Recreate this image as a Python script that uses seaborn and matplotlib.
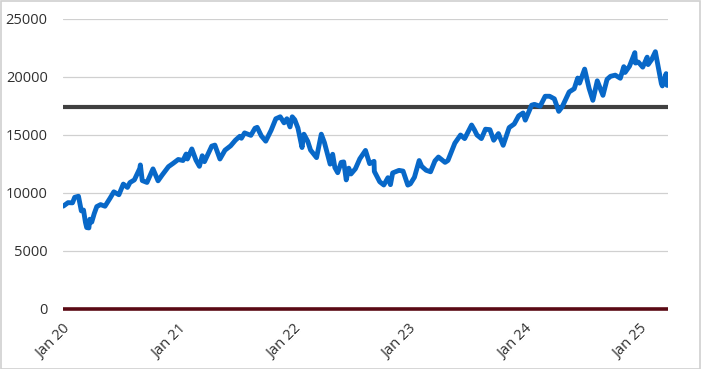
import pandas as pd
import numpy as np
import matplotlib
matplotlib.use("Agg")
import matplotlib.pyplot as plt
import matplotlib.dates as mdates
import seaborn as sns

sns.set_style('white')
plt.rcParams['font.family'] = ['Open Sans', 'DejaVu Sans']

# index level
dates = [
    "2020-01-02", "2020-01-17", "2020-01-31", "2020-02-07", "2020-02-19", "2020-02-28",
    "2020-03-06", "2020-03-12", "2020-03-16", "2020-03-23", "2020-03-26", "2020-04-01",
    "2020-04-09", "2020-04-17", "2020-04-29", "2020-05-13", "2020-05-29", "2020-06-10",
    "2020-06-26", "2020-07-10", "2020-07-23", "2020-07-31", "2020-08-14", "2020-08-31",
    "2020-09-02", "2020-09-08", "2020-09-23", "2020-10-12", "2020-10-28", "2020-11-10",
    "2020-11-30", "2020-12-15", "2020-12-31",
    "2021-01-15", "2021-01-25", "2021-01-29", "2021-02-12", "2021-02-25", "2021-03-08",
    "2021-03-17", "2021-03-24", "2021-04-16", "2021-04-26", "2021-05-12", "2021-05-28",
    "2021-06-15", "2021-06-30", "2021-07-14", "2021-07-19", "2021-07-29", "2021-08-18",
    "2021-08-31", "2021-09-07", "2021-09-20", "2021-10-04", "2021-10-21", "2021-11-05",
    "2021-11-19", "2021-12-01", "2021-12-10", "2021-12-20", "2021-12-27",
    "2022-01-04", "2022-01-14", "2022-01-27", "2022-02-02", "2022-02-14", "2022-02-23",
    "2022-03-14", "2022-03-29", "2022-04-08", "2022-04-26", "2022-05-04", "2022-05-11",
    "2022-05-20", "2022-05-31", "2022-06-08", "2022-06-16", "2022-06-24", "2022-07-01",
    "2022-07-15", "2022-07-29", "2022-08-16", "2022-08-29", "2022-09-12", "2022-09-13",
    "2022-09-30", "2022-10-13", "2022-10-26", "2022-11-03", "2022-11-10", "2022-11-30",
    "2022-12-13", "2022-12-28",
    "2023-01-05", "2023-01-18", "2023-02-02", "2023-02-10", "2023-02-24", "2023-03-10",
    "2023-03-24", "2023-04-04", "2023-04-25", "2023-05-04", "2023-05-26", "2023-06-13",
    "2023-06-26", "2023-07-18", "2023-07-27", "2023-08-04", "2023-08-18", "2023-08-31",
    "2023-09-14", "2023-09-26", "2023-10-11", "2023-10-26", "2023-11-14", "2023-11-30",
    "2023-12-14", "2023-12-28",
    "2024-01-04", "2024-01-24", "2024-02-02", "2024-02-20", "2024-03-07", "2024-03-21",
    "2024-04-05", "2024-04-19", "2024-04-30", "2024-05-22", "2024-06-07", "2024-06-18",
    "2024-06-24", "2024-07-10", "2024-07-24", "2024-08-05", "2024-08-19", "2024-09-06",
    "2024-09-19", "2024-09-30", "2024-10-15", "2024-10-31", "2024-11-11", "2024-11-15",
    "2024-11-29", "2024-12-16", "2024-12-18", "2024-12-27",
    "2025-01-10", "2025-01-24", "2025-01-27", "2025-02-07", "2025-02-19", "2025-02-28",
    "2025-03-10", "2025-03-13", "2025-03-19", "2025-03-25", "2025-03-28", "2025-03-31",
]
values = [
    8870, 9170, 9150, 9630, 9720, 8460,
    8530, 7480, 7020, 6990, 7740, 7490,
    8230, 8830, 9000, 8860, 9550, 10100,
    9850, 10770, 10480, 10900, 11130, 12110,
    12420, 11070, 10910, 12080, 11050, 11550,
    12270, 12560, 12890,
    12800, 13360, 12930, 13800, 12840, 12300,
    13210, 12700, 14040, 14130, 12930, 13690,
    14070, 14550, 14890, 14720, 15180, 14970,
    15580, 15660, 14930, 14470, 15400, 16400,
    16570, 16050, 16400, 15700, 16570,
    16310, 15600, 13920, 15070, 14460, 13700,
    13050, 15070, 14340, 12490, 13340, 12190,
    11750, 12640, 12680, 11130, 12140, 11640,
    12090, 12950, 13670, 12530, 12730, 11860,
    10970, 10690, 11320, 10720, 11730, 11950,
    11890, 10680,
    10790, 11360, 12800, 12300, 11960, 11830,
    12770, 13100, 12640, 12800, 14300, 15000,
    14690, 15860, 15440, 15000, 14690, 15500,
    15460, 14550, 15120, 14110, 15640, 15950,
    16650, 16900,
    16280, 17570, 17640, 17480, 18340, 18340,
    18120, 17040, 17440, 18710, 18990, 19910,
    19470, 20680, 19030, 17990, 19670, 18420,
    19800, 20060, 20160, 19890, 20890, 20390,
    20930, 22100, 21200, 21290,
    20850, 21710, 21070, 21490, 22180, 20880,
    19430, 19230, 19740, 20290, 19280, 19280,
]
reference_level = 17400
zero_level = 0

df = pd.DataFrame({'Date': pd.to_datetime(dates), 'Value': values})
x_start = pd.Timestamp("2020-01-01")
x_end = df['Date'].iloc[-1]

fig = plt.figure(figsize=(7.01, 3.69), dpi=100)
ax = fig.add_axes([63 / 701, 60 / 369, 605 / 701, 290 / 369])

# flat reference lines
ax.plot([x_start, x_end], [reference_level, reference_level], color='#404040', lw=3, zorder=3)
ax.plot([x_start, x_end], [zero_level, zero_level], color='#5a0a14', lw=2.6, zorder=3,
        solid_capstyle='butt', clip_on=False)

sns.lineplot(data=df, x='Date', y='Value', ax=ax, color='#0868c8', lw=3.5, zorder=4)

ax.set_xlim(x_start, x_end)
ax.set_ylim(0, 25000)
ax.set_yticks(np.arange(0, 25001, 5000))
ax.grid(axis='y', color='#d0d0d0', lw=0.9)
ax.set_axisbelow(True)
for s in ax.spines.values():
    s.set_visible(False)

ax.set_xticks(pd.date_range("2020-01-01", "2025-01-01", freq='YS'))
ax.xaxis.set_major_formatter(mdates.DateFormatter('Jan %y'))
ax.tick_params(axis='x', length=4, color='#c8c8c8', pad=5, labelsize=10.5, labelcolor='#303030')
ax.tick_params(axis='y', length=0, pad=11, labelsize=10.5, labelcolor='#303030')
for lbl in ax.get_xticklabels():
    lbl.set_rotation(45)
    lbl.set_ha('right')
    lbl.set_rotation_mode('anchor')
ax.set_xlabel('')
ax.set_ylabel('')

# chart area border
fig.patches.append(plt.Rectangle((0.001, 0.001), 0.997, 0.996, transform=fig.transFigure,
                                 fill=False, edgecolor='#d0d0d0', lw=1.2))

fig.savefig('out.png', dpi=100)
